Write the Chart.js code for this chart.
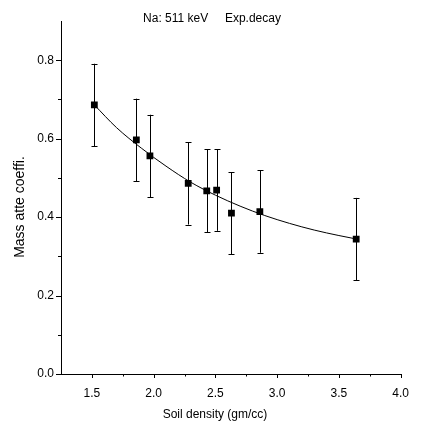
<!DOCTYPE html>
<html>
<head>
<meta charset="utf-8">
<script src="https://cdn.jsdelivr.net/npm/chart.js@4.4.1/dist/chart.umd.min.js"></script>
<style>
html,body{margin:0;padding:0;background:#fff;}
canvas{display:block;}
</style>
</head>
<body>
<canvas id="c" width="421" height="423"></canvas>
<script>
// ---- data ----
const density = [1.52, 1.86, 1.97, 2.28, 2.43, 2.51, 2.63, 2.86, 3.64];
const massAtten = [0.686, 0.597, 0.556, 0.486, 0.467, 0.469, 0.410, 0.414, 0.344];
const errBar = [0.105, 0.105, 0.105, 0.105, 0.106, 0.104, 0.105, 0.105, 0.105];
// fitted exponential-decay curve
const fitX = [1.52, 1.7, 1.9, 2.1, 2.3, 2.5, 2.7, 2.9, 3.1, 3.3, 3.5, 3.644];
const fitY = [0.686, 0.628, 0.576, 0.530, 0.489, 0.456, 0.428, 0.404, 0.384, 0.367, 0.353, 0.344];
const xTicks = [1.5, 2.0, 2.5, 3.0, 3.5, 4.0];
const xMinor = [1.75, 2.25, 2.75, 3.25, 3.75];
const yTicks = [0.0, 0.2, 0.4, 0.6, 0.8];
const yMinor = [0.1, 0.3, 0.5, 0.7];
const titleText = 'Na: 511 keV     Exp.decay';
const xTitle = 'Soil density (gm/cc)';
const yTitle = 'Mass atte coeffi.';

const FONT = '"Liberation Sans", Arial, sans-serif';

const decor = {
  id: 'decor',
  beforeDatasetsDraw(chart) {
    const ctx = chart.ctx, xs = chart.scales.x, ys = chart.scales.y;
    ctx.save();
    ctx.strokeStyle = '#000';
    ctx.lineWidth = 1;
    // error bars
    density.forEach((d, i) => {
      const px = Math.round(xs.getPixelForValue(d)) + 0.5;
      const top = ys.getPixelForValue(massAtten[i] + errBar[i]);
      const bot = ys.getPixelForValue(massAtten[i] - errBar[i]);
      ctx.beginPath();
      ctx.moveTo(px, top); ctx.lineTo(px, bot);
      ctx.moveTo(px - 3, Math.round(top) + 0.5); ctx.lineTo(px + 3, Math.round(top) + 0.5);
      ctx.moveTo(px - 3, Math.round(bot) + 0.5); ctx.lineTo(px + 3, Math.round(bot) + 0.5);
      ctx.stroke();
    });
    ctx.restore();
  },
  afterDraw(chart) {
    const ctx = chart.ctx, xs = chart.scales.x, ys = chart.scales.y;
    const area = chart.chartArea;
    ctx.save();
    ctx.strokeStyle = '#000';
    ctx.lineWidth = 1;
    ctx.beginPath();
    xTicks.forEach(v => { const p = Math.round(xs.getPixelForValue(v)) + 0.5; ctx.moveTo(p, area.bottom); ctx.lineTo(p, area.bottom + 4); });
    xMinor.forEach(v => { const p = Math.round(xs.getPixelForValue(v)) + 0.5; ctx.moveTo(p, area.bottom); ctx.lineTo(p, area.bottom + 2.5); });
    yTicks.forEach(v => { const p = Math.round(ys.getPixelForValue(v)) + 0.5; ctx.moveTo(area.left, p); ctx.lineTo(area.left - 5, p); });
    yMinor.forEach(v => { const p = Math.round(ys.getPixelForValue(v)) + 0.5; ctx.moveTo(area.left, p); ctx.lineTo(area.left - 3, p); });
    ctx.stroke();
    // texts
    ctx.fillStyle = '#000';
    ctx.font = '12px ' + FONT;
    ctx.textAlign = 'center';
    ctx.textBaseline = 'middle';
    ctx.fillText(titleText, 212, 19);
    ctx.fillText(xTitle, 215, 415);
    ctx.font = '14px ' + FONT;
    ctx.translate(20, 207);
    ctx.rotate(-Math.PI / 2);
    ctx.fillText(yTitle, 0, 0);
    ctx.restore();
  }
};

new Chart(document.getElementById('c'), {
  type: 'scatter',
  data: {
    datasets: [
      {
        label: 'data',
        data: density.map((d, i) => ({ x: d, y: massAtten[i] })),
        pointStyle: 'rect',
        pointRadius: 4.8,
        backgroundColor: '#000',
        borderColor: '#000',
        borderWidth: 0,
        showLine: false,
        order: 0
      },
      {
        label: 'fit',
        type: 'line',
        data: fitX.map((d, i) => ({ x: d, y: fitY[i] })),
        borderColor: '#000',
        borderWidth: 1,
        pointRadius: 0,
        fill: false,
        cubicInterpolationMode: 'monotone',
        order: 1
      }
    ]
  },
  options: {
    responsive: false,
    animation: false,
    layout: { padding: { top: 21, right: 11, left: 0, bottom: 0 } },
    plugins: { legend: { display: false }, tooltip: { enabled: false }, title: { display: false } },
    scales: {
      x: {
        type: 'linear',
        min: 1.25, max: 4.0,
        afterBuildTicks: s => { s.ticks = xTicks.map(v => ({ value: v })); },
        afterFit: s => { s.height = 49; },
        grid: { display: false, drawTicks: false },
        border: { display: true, color: '#000', width: 1 },
        ticks: { color: '#000', padding: 12, maxRotation: 0, autoSkip: false,
                 font: { family: FONT, size: 12 }, callback: v => Number(v).toFixed(1) }
      },
      y: {
        type: 'linear',
        min: 0, max: 0.9,
        afterBuildTicks: s => { s.ticks = yTicks.map(v => ({ value: v })); },
        afterFit: s => { s.width = 61; },
        grid: { display: false, drawTicks: false },
        border: { display: true, color: '#000', width: 1 },
        ticks: { color: '#000', padding: 7, autoSkip: false,
                 font: { family: FONT, size: 12 }, callback: v => Number(v).toFixed(1) }
      }
    }
  },
  plugins: [decor]
});
</script>
</body>
</html>
